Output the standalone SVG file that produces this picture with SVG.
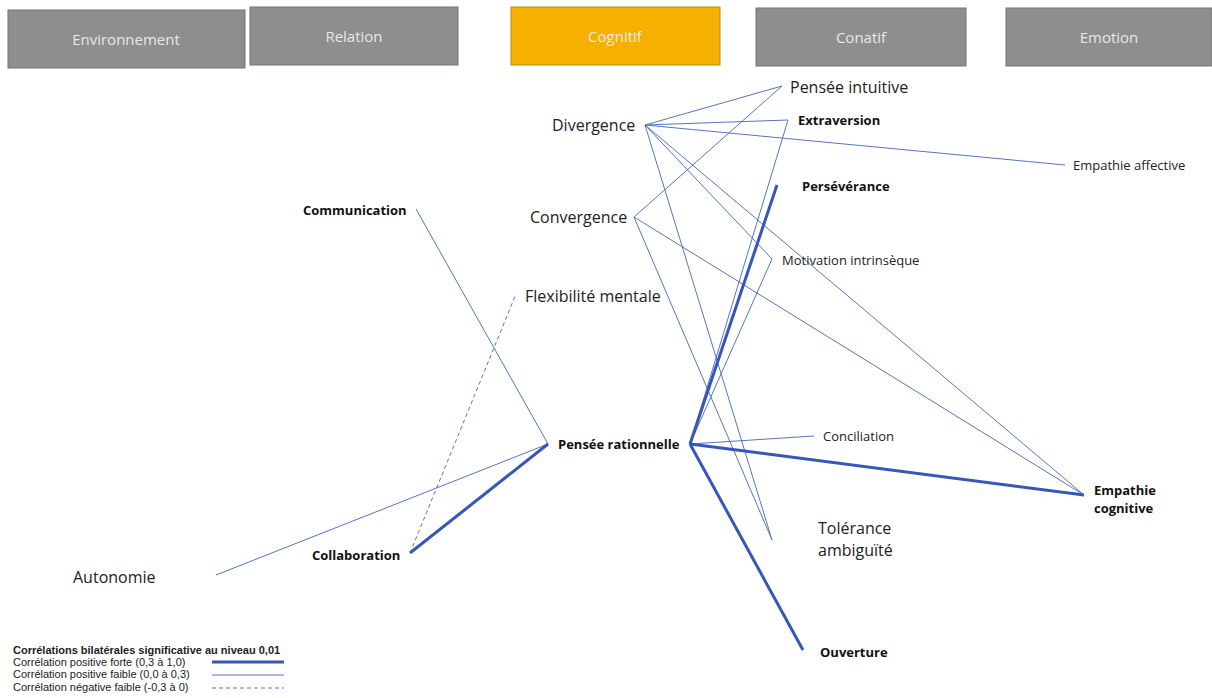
<svg xmlns="http://www.w3.org/2000/svg" width="1212" height="698" viewBox="0 0 1212 698">
<style>
.hdr{fill:#8e8e8e;stroke:#6f7480;stroke-width:1}
.hdr-on{fill:#f6b000;stroke:#b88a10;stroke-width:1}
.ht{font-family:"Open Sans","Liberation Sans",sans-serif;font-size:15px;fill:#e8e8e8;text-anchor:middle}
.lb{font-family:"Open Sans","Liberation Sans",sans-serif;font-size:16px;fill:#222}
.sm{font-family:"Open Sans","Liberation Sans",sans-serif;font-size:13px;fill:#222}
.bd{font-family:"Open Sans","Liberation Sans",sans-serif;font-size:13px;font-weight:bold;fill:#111}
.lg{font-family:"Liberation Sans",Arial,sans-serif;font-size:11px;fill:#222}
.thin{stroke:#5674c4;stroke-width:1;fill:none}
.thick{stroke:#3656b8;stroke-width:3;fill:none}
.dash{stroke:#5674c4;stroke-width:1;stroke-dasharray:4,3;fill:none}
</style>
<rect width="1212" height="698" fill="#ffffff"/>
<g id="headers">
<g id="h-environnement"><rect class="hdr" x="8" y="10" width="237" height="58"/><text class="ht" x="126" y="45">Environnement</text></g>
<g id="h-relation"><rect class="hdr" x="250" y="7" width="208" height="58"/><text class="ht" x="354" y="42">Relation</text></g>
<g id="h-cognitif"><rect class="hdr-on" x="511" y="7" width="209" height="58"/><text class="ht" x="615" y="42">Cognitif</text></g>
<g id="h-conatif"><rect class="hdr" x="756" y="8" width="210" height="58"/><text class="ht" x="861" y="43">Conatif</text></g>
<g id="h-emotion"><rect class="hdr" x="1006" y="8" width="206" height="58"/><text class="ht" x="1109" y="43">Emotion</text></g>
</g>
<g id="connectors">
<line class="thin" x1="645" y1="125" x2="782" y2="86"/>
<line class="thin" x1="645" y1="125" x2="788" y2="120"/>
<line class="thin" x1="645" y1="125" x2="1065" y2="165"/>
<line class="thin" x1="645" y1="125" x2="772" y2="259"/>
<line class="thin" x1="645" y1="125" x2="1084" y2="495"/>
<line class="thin" x1="645" y1="125" x2="772" y2="540"/>
<line class="thin" x1="634" y1="217" x2="782" y2="86"/>
<line class="thin" x1="634" y1="217" x2="1084" y2="495"/>
<line class="thin" x1="634" y1="217" x2="772" y2="540"/>
<line class="thin" x1="690" y1="444" x2="788" y2="120"/>
<line class="thin" x1="690" y1="444" x2="772" y2="259"/>
<line class="thin" x1="690" y1="444" x2="814" y2="436"/>
<line class="thick" x1="690" y1="444" x2="777" y2="185"/>
<line class="thick" x1="690" y1="444" x2="1084" y2="495"/>
<line class="thick" x1="690" y1="444" x2="803" y2="650"/>
<line class="thin" x1="548" y1="444" x2="416" y2="209"/>
<line class="thin" x1="548" y1="444" x2="216" y2="575"/>
<line class="thick" x1="548" y1="444" x2="410" y2="553"/>
<line class="dash" x1="410" y1="553" x2="516" y2="294"/>
</g>
<g id="n-divergence"><text class="lb" x="552" y="131">Divergence</text></g>
<g id="n-pensee-intuitive"><text class="lb" x="790" y="93">Pensée intuitive</text></g>
<g id="n-extraversion"><text class="bd" x="798" y="125">Extraversion</text></g>
<g id="n-empathie-affective"><text class="sm" x="1073" y="170" font-size="12.5">Empathie affective</text></g>
<g id="n-perseverance"><text class="bd" x="802" y="191">Persévérance</text></g>
<g id="n-communication"><text class="bd" x="303" y="215">Communication</text></g>
<g id="n-convergence"><text class="lb" x="530" y="223">Convergence</text></g>
<g id="n-motivation"><text class="sm" x="782" y="265">Motivation intrinsèque</text></g>
<g id="n-flexibilite"><text class="lb" x="525" y="302">Flexibilité mentale</text></g>
<g id="n-pensee-rationnelle"><text class="bd" x="558" y="449">Pensée rationnelle</text></g>
<g id="n-conciliation"><text class="sm" x="823" y="441">Conciliation</text></g>
<g id="n-empathie-cognitive"><text class="bd" x="1094" y="495">Empathie</text><text class="bd" x="1094" y="513">cognitive</text></g>
<g id="n-tolerance"><text class="lb" x="818" y="534">Tolérance</text><text class="lb" x="818" y="556">ambiguïté</text></g>
<g id="n-collaboration"><text class="bd" x="312" y="560">Collaboration</text></g>
<g id="n-autonomie"><text class="lb" x="73" y="583">Autonomie</text></g>
<g id="n-ouverture"><text class="bd" x="820" y="657">Ouverture</text></g>
<g id="legend">
<text class="lg" x="13" y="654" font-weight="bold">Corrélations bilatérales significative au niveau 0,01</text>
<text class="lg" x="13" y="666">Corrélation positive forte (0,3 à 1,0)</text>
<text class="lg" x="13" y="678">Corrélation positive faible (0,0 à 0,3)</text>
<text class="lg" x="13" y="691">Corrélation négative faible (-0,3 à 0)</text>
<line class="thick" x1="212" y1="662" x2="284" y2="662"/>
<line class="thin" x1="212" y1="675" x2="284" y2="675"/>
<line class="dash" x1="212" y1="688" x2="284" y2="688"/>
</g>
</svg>
